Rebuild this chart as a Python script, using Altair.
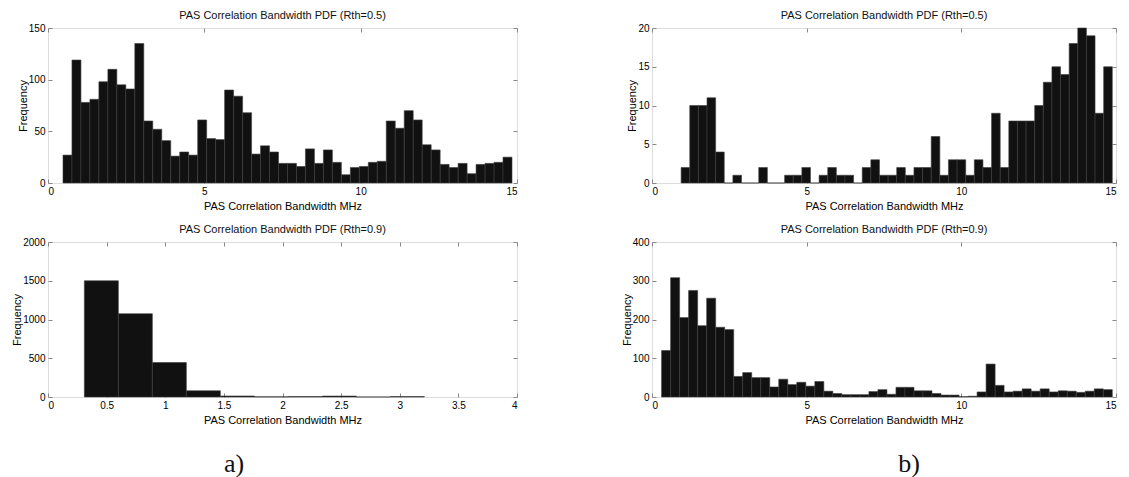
import altair as alt
import numpy as np
import pandas as pd

# ---- data ----
a_top_counts = [27, 119, 78, 81, 98, 110, 95, 91, 135, 60,
                52, 41, 26, 30, 27, 61, 43, 42, 90, 84,
                68, 28, 36, 30, 19, 19, 16, 33, 19, 32,
                20, 8, 15, 16, 20, 21, 60, 53, 70, 61,
                37, 32, 18, 15, 19, 9, 18, 19, 20, 25]
a_top_range = [0.479, 14.84]

a_bot_counts = [1500, 1075, 445, 81, 13, 3, 5, 12, 1, 5]
a_bot_range = [0.31, 3.21]

b_top_counts = [2, 10, 10, 11, 4, 0, 1, 0, 0, 2,
                0, 0, 1, 1, 2, 0, 1, 2, 1, 1,
                0, 2, 3, 1, 1, 2, 1, 2, 2, 6,
                1, 3, 3, 1, 3, 2, 9, 2, 8, 8,
                8, 10, 13, 15, 14, 18, 20, 19, 9, 15]
b_top_range = [0.942, 14.88]

b_bot_counts = [120, 308, 205, 275, 184, 255, 180, 174, 53, 63,
                50, 50, 26, 46, 32, 38, 28, 40, 15, 9,
                6, 6, 6, 14, 19, 7, 25, 25, 16, 16,
                9, 5, 5, 1, 2, 13, 85, 30, 13, 15,
                21, 15, 21, 13, 16, 15, 12, 15, 21, 19]
b_bot_range = [0.31, 14.88]

titles = ["PAS Correlation Bandwidth PDF (Rth=0.5)", "PAS Correlation Bandwidth PDF (Rth=0.9)"]
x_title = "PAS Correlation Bandwidth MHz"
y_title = "Frequency"
panel_labels = ["a)", "b)"]

x_ticks_15 = [0, 5, 10, 15]
x_ticks_4 = [0, 0.5, 1, 1.5, 2, 2.5, 3, 3.5, 4]
y_ticks_150 = [0, 50, 100, 150]
y_ticks_2000 = [0, 500, 1000, 1500, 2000]
y_ticks_20 = [0, 5, 10, 15, 20]
y_ticks_400 = [0, 100, 200, 300, 400]

FONT = "Liberation Sans"
LBL = "'' + datum.value"


def hist_df(counts, rng):
    edges = np.linspace(rng[0], rng[1], len(counts) + 1)
    return pd.DataFrame({"x0": edges[:-1], "x1": edges[1:], "freq": counts})


def panel(counts, rng, xdom, xticks, ydom, yticks, title, w, h, label=None, label_x=0):
    df = hist_df(counts, rng)
    xs = alt.Scale(domain=xdom, nice=False, zero=False)
    ys = alt.Scale(domain=ydom, nice=False)
    base = alt.Chart(df)
    bars = base.mark_bar(fill="#111111", stroke="#3c3c3c", strokeWidth=0.6).encode(
        x=alt.X("x0:Q", scale=xs,
                axis=alt.Axis(orient="bottom", values=xticks, labelExpr=LBL, title=x_title,
                              offset=-4, tickSize=4, labelPadding=3, titlePadding=4,
                              titleFontWeight="normal", domain=False, grid=False)),
        x2="x1:Q",
        y=alt.Y("freq:Q", scale=ys,
                axis=alt.Axis(orient="left", values=yticks, labelExpr=LBL, title=y_title,
                              offset=-4, tickSize=4, labelPadding=3, titlePadding=0,
                              titleFontWeight="normal", domain=False, grid=False)),
        y2=alt.datum(0),
    )
    ghost = base.mark_bar(opacity=0).encode(
        x=alt.X("x0:Q", scale=xs,
                axis=alt.Axis(orient="top", values=xticks, labels=False, title="",
                              offset=-4, tickSize=4, domain=False, grid=False)),
        x2="x1:Q",
        y=alt.Y("freq:Q", scale=ys,
                axis=alt.Axis(orient="right", values=yticks, labels=False, title="",
                              offset=-4, tickSize=4, domain=False, grid=False)),
        y2=alt.datum(0),
    )
    layers = [bars, ghost]
    if label is not None:
        txt = alt.Chart(pd.DataFrame({"lab": [label]})).mark_text(
            font="Liberation Serif", fontSize=26, baseline="middle", align="center", color="#111"
        ).encode(text="lab:N", x=alt.value(label_x), y=alt.value(h + 67))
        layers.append(txt)
    return alt.layer(*layers).resolve_axis(x="independent", y="independent").properties(
        width=w, height=h,
        title=alt.TitleParams(title, fontSize=11, fontWeight="normal", font=FONT, offset=2,
                              color="#111"),
    )


a_top = panel(a_top_counts, a_top_range, [0, 15], x_ticks_15, [0, 150], y_ticks_150, titles[0], 469, 155)
b_top = panel(b_top_counts, b_top_range, [0, 15], x_ticks_15, [0, 20], y_ticks_20, titles[0], 464, 155)
a_bot = panel(a_bot_counts, a_bot_range, [0, 4], x_ticks_4, [0, 2000], y_ticks_2000, titles[1], 469, 155,
              label=panel_labels[0], label_x=186)
b_bot = panel(b_bot_counts, b_bot_range, [0, 15], x_ticks_15, [0, 400], y_ticks_400, titles[1], 464, 155,
              label=panel_labels[1], label_x=257)

chart = alt.concat(a_top, b_top, a_bot, b_bot, columns=2, spacing={"row": 59, "column": 135},
                   bounds="flush").properties(
    padding={"left": 3, "top": 1, "right": 0, "bottom": 0},
).configure_view(stroke="#666666", strokeWidth=1).configure_axis(
    labelFont=FONT, labelFontSize=11, labelColor="#111", titleFont=FONT, titleFontSize=11,
    titleFontWeight="normal", titleColor="#111", tickColor="#555555", tickWidth=1,
).configure(background="white")

chart.save("out.html", embed_options={"renderer": "svg", "actions": False})
